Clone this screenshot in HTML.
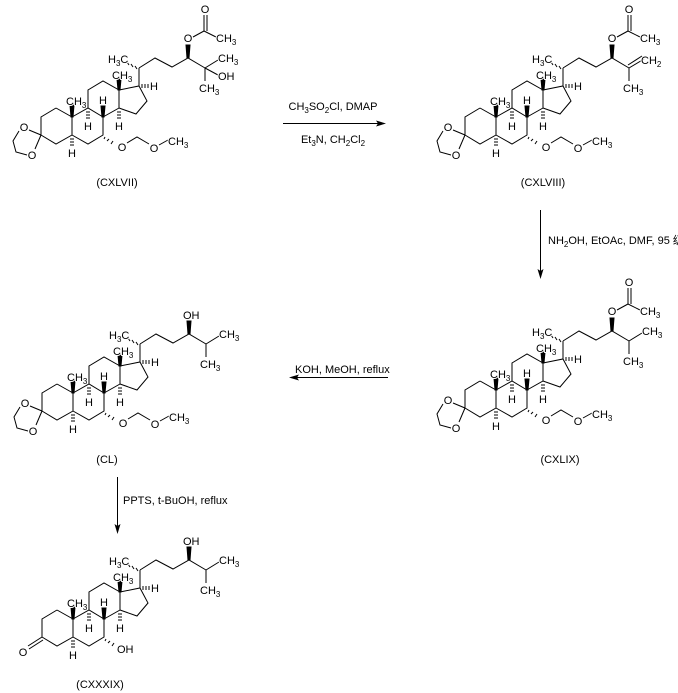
<!DOCTYPE html>
<html><head><meta charset="utf-8"><style>
html,body{margin:0;padding:0;background:#fff;}
svg{display:block;}
text{font-family:"Liberation Sans","Noto Sans CJK SC",sans-serif;font-size:11px;fill:#000;paint-order:stroke;stroke:#fff;stroke-width:2px;stroke-linejoin:round;}
.s{font-size:8px;}
</style></head><body>
<svg width="678" height="693" viewBox="0 0 678 693" xmlns="http://www.w3.org/2000/svg">
<defs>
<g id="core" stroke="#000" stroke-width="1" fill="none">
 <polyline points="56,108 41,117 41,135 56,144 72,135 72,117 56,108"/>
 <polyline points="72,117 88,108 103,117 103,135 88,144 72,135"/>
 <polyline points="88,108 88,90 103,81 119,90 119,108 103,117"/>
 <polyline points="119,90 139,86 147,101 136,114 119,108"/>
 <line x1="139" y1="86" x2="139" y2="68"/>
 <polyline points="139,68 155,58 172,67 188,58 205,68"/>
 <g stroke-width="1">
  <line x1="135" y1="66" x2="137" y2="69"/><line x1="131" y1="64" x2="133" y2="67"/><line x1="127" y1="62" x2="129" y2="65"/>
  <line x1="86" y1="112" x2="90" y2="112"/><line x1="86" y1="115" x2="90" y2="115"/><line x1="86" y1="118" x2="90" y2="118"/>
  <line x1="117" y1="112" x2="121" y2="112"/><line x1="117" y1="115" x2="121" y2="115"/><line x1="117" y1="118" x2="121" y2="118"/>
  <line x1="70" y1="139" x2="74" y2="139"/><line x1="70" y1="142" x2="74" y2="142"/><line x1="70" y1="145" x2="74" y2="145"/>
  <line x1="142" y1="84" x2="142" y2="88"/><line x1="145" y1="84" x2="145" y2="88"/><line x1="148" y1="84" x2="148" y2="88"/>
 </g>
 <polygon points="71,117 73,117 74,105 70,105" fill="#000"/>
 <polygon points="118,90 120,90 121,79 117,79" fill="#000"/>
 <polygon points="102,117 104,117 105,106 101,106" fill="#000"/>
 <polygon points="187,58 189,58 190,45 186,45" fill="#000"/>
</g>
<g id="ketal" stroke="#000" stroke-width="1" fill="none">
 <line x1="41" y1="135" x2="29" y2="130"/>
 <line x1="41" y1="135" x2="35" y2="149"/>
 <polyline points="19,131 13,141 16,152 27,155"/>
</g>
<g id="mom" stroke="#000" stroke-width="1" fill="none">
 <line x1="105" y1="137" x2="104" y2="139"/><line x1="109" y1="139" x2="107" y2="141"/><line x1="113" y1="141" x2="111" y2="144"/>
 <polyline points="127,143 137,137 149,144"/>
 <line x1="159" y1="145" x2="168" y2="140"/>
</g>
</defs>

<g transform="translate(0,0)">
 <use href="#core"/><use href="#ketal"/><use href="#mom"/>
 <g stroke="#000" fill="none">
  <line x1="193" y1="37" x2="204" y2="31"/>
  <line x1="204" y1="31" x2="204" y2="15"/><line x1="207" y1="31" x2="207" y2="15"/>
  <line x1="204" y1="31" x2="216" y2="37"/>
  <line x1="205" y1="68" x2="218" y2="60"/><line x1="205" y1="68" x2="218" y2="75"/>
  <line x1="205" y1="68" x2="205" y2="81"/>
 </g>
 <text x="24" y="131" text-anchor="middle">O</text><text x="32" y="159" text-anchor="middle">O</text>
 <text x="122" y="151" text-anchor="middle">O</text><text x="154" y="152" text-anchor="middle">O</text>
 <text x="168" y="145">CH<tspan class="s" dy="3">3</tspan></text>
 <text x="66" y="105">CH<tspan class="s" dy="3">3</tspan></text>
 <text x="112" y="79">CH<tspan class="s" dy="3">3</tspan></text>
 <text x="108" y="63">H<tspan class="s" dy="3">3</tspan><tspan dy="-3">C</tspan></text>
 <text x="84" y="130">H</text><text x="115" y="130">H</text><text x="99" y="104">H</text>
 <text x="68" y="157">H</text><text x="150" y="90">H</text>
 <text x="188" y="42" text-anchor="middle">O</text><text x="205" y="13" text-anchor="middle">O</text>
 <text x="216" y="42">CH<tspan class="s" dy="3">3</tspan></text>
 <text x="218" y="62">CH<tspan class="s" dy="3">3</tspan></text>
 <text x="218" y="80">OH</text>
 <text x="199" y="92">CH<tspan class="s" dy="3">3</tspan></text>
 <text x="117" y="186" text-anchor="middle">(CXLVII)</text>
</g>

<g transform="translate(424,0)">
 <use href="#core"/><use href="#ketal"/><use href="#mom"/>
 <g stroke="#000" fill="none">
  <line x1="193" y1="37" x2="204" y2="31"/>
  <line x1="204" y1="31" x2="204" y2="15"/><line x1="207" y1="31" x2="207" y2="15"/>
  <line x1="204" y1="31" x2="216" y2="37"/>
  <line x1="205" y1="68" x2="220" y2="59"/><line x1="204" y1="65" x2="218" y2="56"/>
  <line x1="205" y1="68" x2="205" y2="81"/>
 </g>
 <text x="24" y="131" text-anchor="middle">O</text><text x="32" y="159" text-anchor="middle">O</text>
 <text x="122" y="151" text-anchor="middle">O</text><text x="154" y="152" text-anchor="middle">O</text>
 <text x="168" y="145">CH<tspan class="s" dy="3">3</tspan></text>
 <text x="66" y="105">CH<tspan class="s" dy="3">3</tspan></text>
 <text x="112" y="79">CH<tspan class="s" dy="3">3</tspan></text>
 <text x="108" y="63">H<tspan class="s" dy="3">3</tspan><tspan dy="-3">C</tspan></text>
 <text x="84" y="130">H</text><text x="115" y="130">H</text><text x="99" y="104">H</text>
 <text x="68" y="157">H</text><text x="150" y="90">H</text>
 <text x="188" y="42" text-anchor="middle">O</text><text x="205" y="13" text-anchor="middle">O</text>
 <text x="216" y="42">CH<tspan class="s" dy="3">3</tspan></text>
 <text x="217" y="64">CH<tspan class="s" dy="3">2</tspan></text>
 <text x="199" y="92">CH<tspan class="s" dy="3">3</tspan></text>
 <text x="119" y="186" text-anchor="middle">(CXLVIII)</text>
</g>

<g transform="translate(424,273)">
 <use href="#core"/><use href="#ketal"/><use href="#mom"/>
 <g stroke="#000" fill="none">
  <line x1="193" y1="37" x2="204" y2="31"/>
  <line x1="204" y1="31" x2="204" y2="15"/><line x1="207" y1="31" x2="207" y2="15"/>
  <line x1="204" y1="31" x2="216" y2="37"/>
  <line x1="205" y1="68" x2="218" y2="60"/>
  <line x1="205" y1="68" x2="205" y2="81"/>
 </g>
 <text x="24" y="131" text-anchor="middle">O</text><text x="32" y="159" text-anchor="middle">O</text>
 <text x="122" y="151" text-anchor="middle">O</text><text x="154" y="152" text-anchor="middle">O</text>
 <text x="168" y="145">CH<tspan class="s" dy="3">3</tspan></text>
 <text x="66" y="105">CH<tspan class="s" dy="3">3</tspan></text>
 <text x="112" y="79">CH<tspan class="s" dy="3">3</tspan></text>
 <text x="108" y="63">H<tspan class="s" dy="3">3</tspan><tspan dy="-3">C</tspan></text>
 <text x="84" y="130">H</text><text x="115" y="130">H</text><text x="99" y="104">H</text>
 <text x="68" y="157">H</text><text x="150" y="90">H</text>
 <text x="188" y="42" text-anchor="middle">O</text><text x="205" y="13" text-anchor="middle">O</text>
 <text x="216" y="42">CH<tspan class="s" dy="3">3</tspan></text>
 <text x="218" y="62">CH<tspan class="s" dy="3">3</tspan></text>
 <text x="199" y="92">CH<tspan class="s" dy="3">3</tspan></text>
 <text x="136" y="190" text-anchor="middle">(CXLIX)</text>
</g>

<g transform="translate(1,276)">
 <use href="#core"/><use href="#ketal"/><use href="#mom"/>
 <g stroke="#000" fill="none">
  <line x1="205" y1="68" x2="218" y2="60"/>
  <line x1="205" y1="68" x2="205" y2="81"/>
 </g>
 <text x="24" y="131" text-anchor="middle">O</text><text x="32" y="159" text-anchor="middle">O</text>
 <text x="122" y="151" text-anchor="middle">O</text><text x="154" y="152" text-anchor="middle">O</text>
 <text x="168" y="145">CH<tspan class="s" dy="3">3</tspan></text>
 <text x="66" y="105">CH<tspan class="s" dy="3">3</tspan></text>
 <text x="112" y="79">CH<tspan class="s" dy="3">3</tspan></text>
 <text x="108" y="63">H<tspan class="s" dy="3">3</tspan><tspan dy="-3">C</tspan></text>
 <text x="84" y="130">H</text><text x="115" y="130">H</text><text x="99" y="104">H</text>
 <text x="68" y="157">H</text><text x="150" y="90">H</text>
 <text x="182" y="43">OH</text>
 <text x="218" y="62">CH<tspan class="s" dy="3">3</tspan></text>
 <text x="199" y="92">CH<tspan class="s" dy="3">3</tspan></text>
 <text x="106" y="187" text-anchor="middle">(CL)</text>
</g>

<g transform="translate(1,502)">
 <use href="#core"/>
 <g stroke="#000" fill="none">
  <line x1="41" y1="135" x2="27" y2="144"/><line x1="42" y1="138" x2="28" y2="147"/>
  <line x1="105" y1="137" x2="104" y2="139"/><line x1="109" y1="139" x2="107" y2="141"/><line x1="113" y1="141" x2="111" y2="144"/>
  <line x1="205" y1="68" x2="218" y2="60"/>
  <line x1="205" y1="68" x2="205" y2="81"/>
 </g>
 <text x="22" y="154" text-anchor="middle">O</text>
 <text x="116" y="151">OH</text>
 <text x="66" y="105">CH<tspan class="s" dy="3">3</tspan></text>
 <text x="112" y="79">CH<tspan class="s" dy="3">3</tspan></text>
 <text x="108" y="63">H<tspan class="s" dy="3">3</tspan><tspan dy="-3">C</tspan></text>
 <text x="84" y="130">H</text><text x="115" y="130">H</text><text x="99" y="104">H</text>
 <text x="68" y="157">H</text><text x="150" y="90">H</text>
 <text x="182" y="43">OH</text>
 <text x="218" y="62">CH<tspan class="s" dy="3">3</tspan></text>
 <text x="199" y="92">CH<tspan class="s" dy="3">3</tspan></text>
 <text x="99" y="186" text-anchor="middle">(CXXXIX)</text>
</g>

<g stroke="#000" stroke-width="1">
 <line x1="283" y1="123.5" x2="380" y2="123.5"/>
 <line x1="540.5" y1="210" x2="540.5" y2="272"/>
 <line x1="295" y1="377.5" x2="388" y2="377.5"/>
 <line x1="117.5" y1="477" x2="117.5" y2="528"/>
</g>
<g fill="#000">
 <polygon points="386,123.5 376,120.5 378,123.5 376,126.5"/>
 <polygon points="540.5,279 537.5,269 540.5,271 543.5,269"/>
 <polygon points="289,377.5 299,374.5 297,377.5 299,380.5"/>
 <polygon points="117.5,534 114.5,524 117.5,526 120.5,524"/>
</g>
<text x="333" y="110" text-anchor="middle">CH<tspan class="s" dy="3">3</tspan><tspan dy="-3">SO</tspan><tspan class="s" dy="3">2</tspan><tspan dy="-3">Cl, DMAP</tspan></text>
<text x="333" y="143" text-anchor="middle">Et<tspan class="s" dy="3">3</tspan><tspan dy="-3">N, CH</tspan><tspan class="s" dy="3">2</tspan><tspan dy="-3">Cl</tspan><tspan class="s" dy="3">2</tspan></text>
<text x="548" y="244">NH<tspan class="s" dy="3">2</tspan><tspan dy="-3">OH, EtOAc, DMF, 95 级</tspan></text>
<text x="295" y="373">KOH, MeOH, reflux</text>
<text x="123" y="504">PPTS, t-BuOH, reflux</text>
</svg>
</body></html>
